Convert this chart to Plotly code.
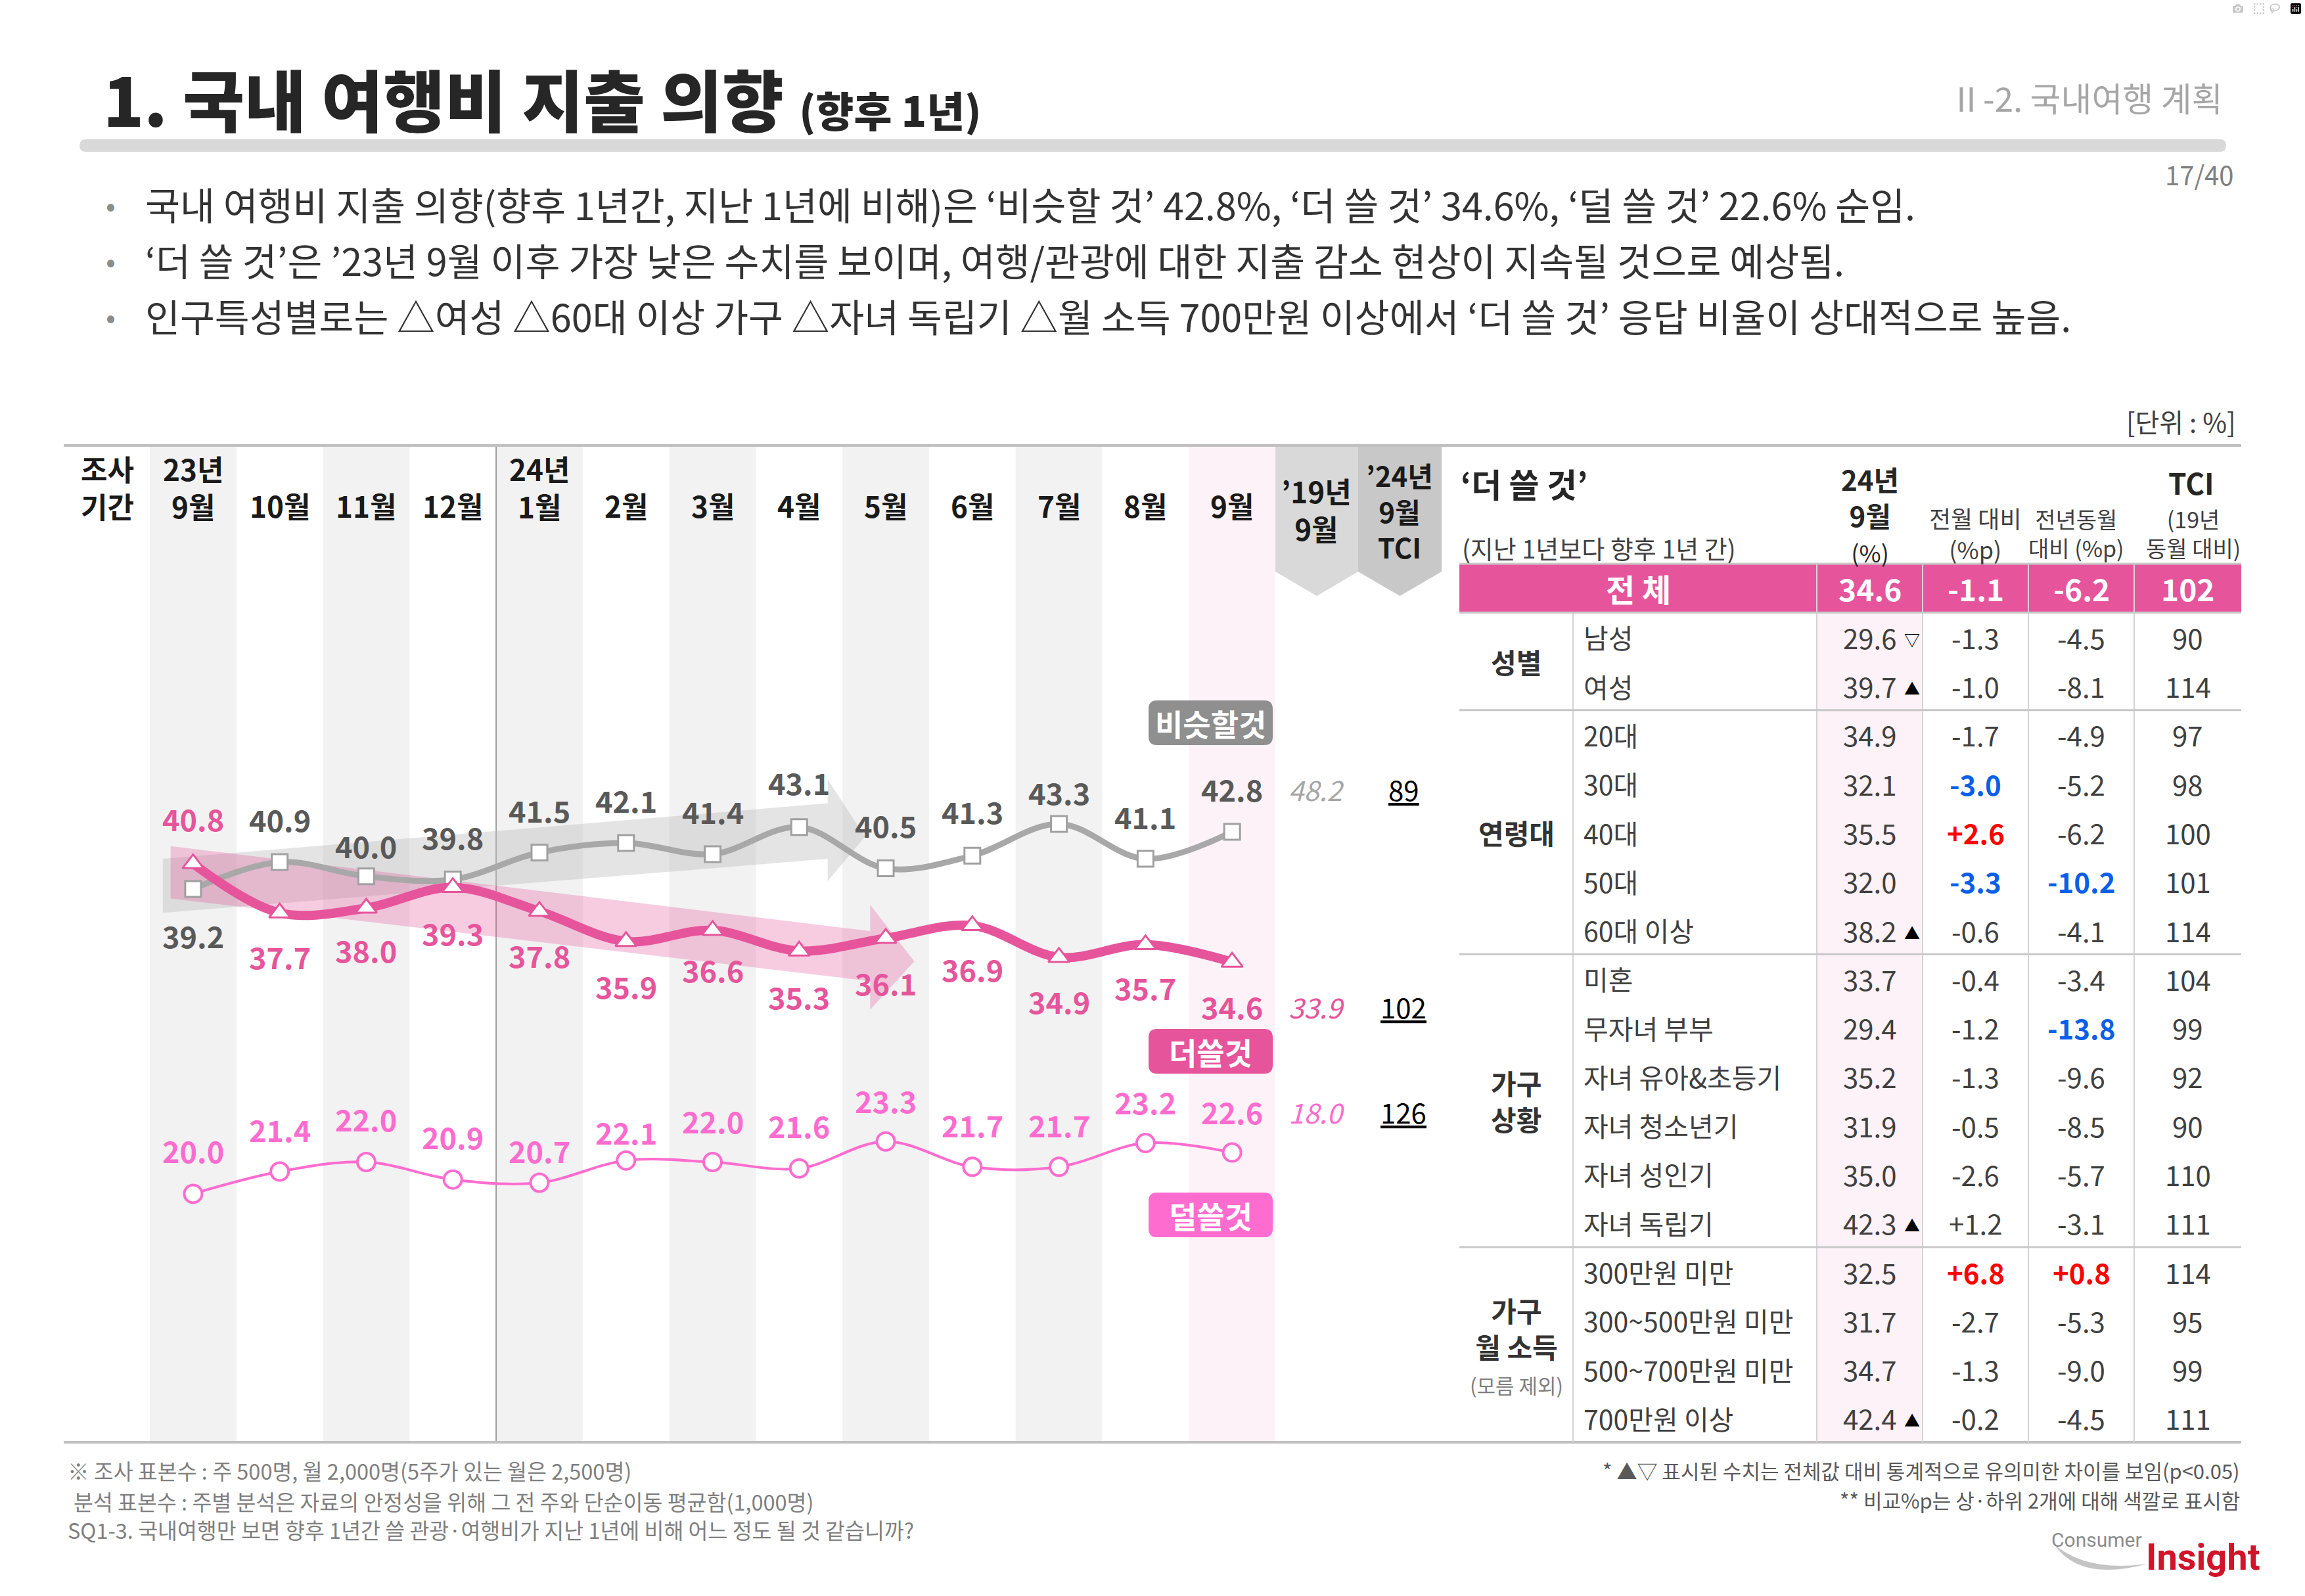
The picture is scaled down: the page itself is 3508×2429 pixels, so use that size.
import plotly.graph_objects as go

W, H = 3508, 2429
KR = "Noto Sans CJK KR"

# ---------------- data ----------------
period_year = ["23년", "", "", "", "24년", "", "", "", "", "", "", "", ""]
period_month = ["9월", "10월", "11월", "12월", "1월", "2월", "3월", "4월", "5월", "6월", "7월", "8월", "9월"]
similar_vals = [39.2, 40.9, 40.0, 39.8, 41.5, 42.1, 41.4, 43.1, 40.5, 41.3, 43.3, 41.1, 42.8]
more_vals = [40.8, 37.7, 38.0, 39.3, 37.8, 35.9, 36.6, 35.3, 36.1, 36.9, 34.9, 35.7, 34.6]
less_vals = [20.0, 21.4, 22.0, 20.9, 20.7, 22.1, 22.0, 21.6, 23.3, 21.7, 21.7, 23.2, 22.6]
series_names = ["비슷할것", "더쓸것", "덜쓸것"]
sep2019_vals = [48.2, 33.9, 18.0]
tci_vals = [89, 102, 126]

total_row = [34.6, -1.1, -6.2, 102]
group_names = ["성별", "연령대", "가구\n상황", "가구\n월 소득\n(모름 제외)"]
group_sizes = [2, 5, 6, 4]
row_names = ["남성", "여성", "20대", "30대", "40대", "50대", "60대 이상", "미혼", "무자녀 부부",
             "자녀 유아&초등기", "자녀 청소년기", "자녀 성인기", "자녀 독립기",
             "300만원 미만", "300~500만원 미만", "500~700만원 미만", "700만원 이상"]
row_pct = [29.6, 39.7, 34.9, 32.1, 35.5, 32.0, 38.2, 33.7, 29.4, 35.2, 31.9, 35.0, 42.3, 32.5, 31.7, 34.7, 42.4]
row_mom = [-1.3, -1.0, -1.7, -3.0, 2.6, -3.3, -0.6, -0.4, -1.2, -1.3, -0.5, -2.6, 1.2, 6.8, -2.7, -1.3, -0.2]
row_yoy = [-4.5, -8.1, -4.9, -5.2, -6.2, -10.2, -4.1, -3.4, -13.8, -9.6, -8.5, -5.7, -3.1, 0.8, -5.3, -9.0, -4.5]
row_tci = [90, 114, 97, 98, 100, 101, 114, 104, 99, 92, 90, 110, 111, 114, 95, 99, 111]
row_sig = ["▽", "▲", "", "", "", "", "▲", "", "", "", "", "", "▲", "", "", "", "▲"]

# ---------------- styles ----------------
C_GRAY_LINE = "#a8a8a8"
C_GRAY_TXT = "#595959"
C_PINK = "#e6559b"
C_LPINK = "#ff6ccf"
C_TXT = "#262626"
C_TBL = "#404040"
C_BLUE = "#0a5fe8"
C_RED = "#ff0000"
C_HEAD = "#1a1a1a"
SERIES_COLORS = [C_GRAY_TXT, C_PINK, C_LPINK]
BOX_COLORS = ["#8f8f8f", C_PINK, C_LPINK]
# label offsets (px, positive = up)
LABEL_SHIFT = [
    [-70, 65, 47, 65, 65, 65, 65, 68, 66, 68, 48, 65, 66],
    [69, -66, -63, -69, -67, -68, -60, -69, -68, -66, -67, -65, -67],
    [66, 65, 66, 66, 49, 44, 63, 66, 63, 64, 64, 63, 63],
]

X0_PLOT, X1_PLOT = 228, 1941
Y0_PLOT, Y1_PLOT = 678, 2195
COLW = (X1_PLOT - X0_PLOT) / len(period_month)


def X(p):
    return p / W


def Y(p):
    return 1 - p / H


def P(x, y):
    return f"{X(x):.6f},{Y(y):.6f}"


def rrect(x0, y0, x1, y1, r):
    return (f"M {P(x0 + r, y0)} L {P(x1 - r, y0)} Q {P(x1, y0)} {P(x1, y0 + r)} "
            f"L {P(x1, y1 - r)} Q {P(x1, y1)} {P(x1 - r, y1)} L {P(x0 + r, y1)} "
            f"Q {P(x0, y1)} {P(x0, y1 - r)} L {P(x0, y0 + r)} Q {P(x0, y0)} {P(x0 + r, y0)} Z")


def ann(text, x, y, size, color=C_TXT, bold=False, xanchor="center", yanchor="middle",
        italic=False, family=KR, under=False, weight=None):
    font = dict(family=family, size=size, color=color, weight=weight or (700 if bold else 400))
    if italic:
        font["style"] = "italic"
    if under:
        font["lineposition"] = "under"
    return dict(text=text, x=X(x), y=Y(y), xref="paper", yref="paper", showarrow=False,
                font=font, xanchor=xanchor, yanchor=yanchor)


def line_shape(x0, y0, x1, y1, color, width):
    return dict(type="line", xref="paper", yref="paper", x0=X(x0), y0=Y(y0), x1=X(x1), y1=Y(y1),
                line=dict(color=color, width=width))


def rect_shape(x0, y0, x1, y1, color, layer="below"):
    return dict(type="rect", xref="paper", yref="paper", x0=X(x0), y0=Y(y0), x1=X(x1), y1=Y(y1),
                fillcolor=color, line=dict(width=0), layer=layer)


fig = go.Figure()
x_idx = list(range(len(period_month)))

fig.add_trace(go.Scatter(
    x=x_idx, y=similar_vals, mode="lines+markers", hoverinfo="skip",
    line=dict(color=C_GRAY_LINE, width=9, shape="spline", smoothing=1),
    marker=dict(symbol="square", size=24, color="#ffffff", line=dict(color="#a0a0a0", width=3))))
fig.add_trace(go.Scatter(
    x=x_idx, y=more_vals, mode="lines+markers", hoverinfo="skip",
    line=dict(color=C_PINK, width=14, shape="spline", smoothing=1),
    marker=dict(symbol="triangle-up", size=28, color="#ffffff", line=dict(color=C_PINK, width=3))))
fig.add_trace(go.Scatter(
    x=x_idx, y=less_vals, mode="lines+markers", hoverinfo="skip",
    line=dict(color=C_LPINK, width=4, shape="spline", smoothing=1),
    marker=dict(symbol="circle", size=27, color="#ffffff", line=dict(color=C_LPINK, width=4))))

shapes = []
anns = []

# title bar
shapes.append(dict(type="path", xref="paper", yref="paper", path=rrect(121, 212, 3388, 231, 9.5),
                   fillcolor="#d9d9d9", line=dict(width=0)))

# column shading
for i in x_idx:
    if i == len(x_idx) - 1:
        col = "#fdf2f7"
    elif i % 2 == 0:
        col = "#f2f2f2"
    else:
        continue
    shapes.append(dict(type="rect", xref="x", yref="paper", x0=i - 0.5, x1=i + 0.5,
                       y0=Y(Y1_PLOT), y1=Y(Y0_PLOT), fillcolor=col, line=dict(width=0), layer="below"))

# 2019 / TCI chevrons
for (a, b, col) in [(1941, 2067, "#d9d9d9"), (2067, 2194, "#c8c8c8")]:
    c = (a + b) / 2
    shapes.append(dict(type="path", xref="paper", yref="paper",
                       path=f"M {P(a, 678)} L {P(b, 678)} L {P(b, 870)} L {P(c, 907)} L {P(a, 870)} Z",
                       fillcolor=col, line=dict(width=0), layer="below"))

# trend arrows (decorative, data coords)
shapes.append(dict(type="path", xref="x", yref="y", layer="below",
                   path="M -0.35,41.1 L 7.33,44.6 L 7.33,46.1 L 7.76,42.5 L 7.33,39.7 L 7.33,41.1 L -0.35,37.7 Z",
                   fillcolor="rgba(190,190,190,0.42)", line=dict(width=0)))
shapes.append(dict(type="path", xref="x", yref="y", layer="below",
                   path="M -0.26,41.9 L 7.82,36.55 L 7.82,38.2 L 8.33,34.65 L 7.82,31.6 L 7.82,33.4 L -0.26,38.6 Z",
                   fillcolor="rgba(230,85,155,0.30)", line=dict(width=0)))

# year separator
shapes.append(dict(type="line", xref="x", yref="paper", x0=3.5, x1=3.5, y0=Y(Y1_PLOT), y1=Y(Y0_PLOT),
                   line=dict(color="#a0a0a0", width=2), layer="below"))

# top and bottom rules
shapes.append(line_shape(97, 678, 3411, 678, "#c0c0c0", 4))
shapes.append(line_shape(97, 2195, 3411, 2195, "#c0c0c0", 4))

# ---------------- table ----------------
T_X = [2221, 2394, 2765, 2926, 3087, 3248, 3411]
T_TOP = 858
RH = (2195 - T_TOP) / (len(row_names) + 1)
shapes.append(rect_shape(T_X[2], T_TOP + RH, T_X[3], 2195, "#fdf2f7"))
shapes.append(rect_shape(T_X[0], T_TOP, T_X[6], T_TOP + RH, C_PINK))
for xv in T_X[2:6]:
    shapes.append(line_shape(xv, T_TOP, xv, 2195, "#d4d4d4", 2))
shapes.append(line_shape(T_X[1], T_TOP + RH, T_X[1], 2195, "#d4d4d4", 2))
shapes.append(line_shape(T_X[0], T_TOP, T_X[6], T_TOP, "#c8c8c8", 3))
shapes.append(line_shape(T_X[0], T_TOP + RH, T_X[6], T_TOP + RH, "#c8c8c8", 3))
k = 1
for gs in group_sizes[:-1]:
    k += gs
    shapes.append(line_shape(T_X[0], T_TOP + k * RH, T_X[6], T_TOP + k * RH, "#c8c8c8", 3))

# series label boxes
for j, (name, col) in enumerate(zip(series_names, BOX_COLORS)):
    yc = [1100, 1600, 1849][j]
    shapes.append(dict(type="path", xref="paper", yref="paper", path=rrect(1748, yc - 34, 1937, yc + 34, 13),
                       fillcolor=col, line=dict(width=0)))
    anns.append(ann(name, 1842, yc, 46, "#ffffff", bold=True))

# logo swoosh
shapes.append(dict(type="path", xref="paper", yref="paper",
                   path=f"M {P(3126, 2350)} Q {P(3165, 2408)} {P(3268, 2380)} Q {P(3175, 2393)} {P(3126, 2350)} Z",
                   fillcolor="#c4c4c4", line=dict(width=0)))

# ---------------- texts ----------------
anns.append(dict(text="1. 국내 여행비 지출 의향 <span style='font-size:63px'>(향후 1년)</span>",
                 x=X(155), y=Y(148), xref="paper", yref="paper", showarrow=False, xanchor="left",
                 yanchor="middle", font=dict(family=KR, size=102, color=C_TXT, weight=900)))
anns.append(ann("Ⅱ-2. 국내여행 계획", 3385, 148, 51, "#a6a6a6", xanchor="right"))
anns.append(ann("17/40", 3401, 265, 40, "#808080", xanchor="right"))

bullets = [
    f"국내 여행비 지출 의향(향후 1년간, 지난 1년에 비해)은 ‘비슷할 것’ {similar_vals[-1]}%, "
    f"‘더 쓸 것’ {more_vals[-1]}%, ‘덜 쓸 것’ {less_vals[-1]}% 순임.",
    "‘더 쓸 것’은 ’23년 9월 이후 가장 낮은 수치를 보이며, 여행/관광에 대한 지출 감소 현상이 지속될 것으로 예상됨.",
    "인구특성별로는 △여성 △60대 이상 가구 △자녀 독립기 △월 소득 700만원 이상에서 ‘더 쓸 것’ 응답 비율이 상대적으로 높음.",
]
for yb, t in zip([310, 395, 480], bullets):
    anns.append(ann("•", 168, yb, 44, "#8c8c8c"))
    anns.append(ann(t, 219, yb, 57.5, "#333333", xanchor="left"))

anns.append(ann("[단위 : %]", 3405, 641, 40, C_TBL, xanchor="right"))

# period header
anns.append(ann("조사<br>기간", 163, 741, 44, C_HEAD, bold=True))
for i in x_idx:
    cx = X0_PLOT + (i + 0.5) * COLW
    if period_year[i]:
        anns.append(ann(f"{period_year[i]}<br>{period_month[i]}", cx, 741, 44, C_HEAD, bold=True))
    else:
        anns.append(ann(period_month[i], cx, 769, 44, C_HEAD, bold=True))
anns.append(ann("’19년<br>9월", 2004, 776, 44, C_HEAD, bold=True))
anns.append(ann("’24년<br>9월<br>TCI", 2130, 777, 42, C_HEAD, bold=True))

# data labels
for s, vals in enumerate([similar_vals, more_vals, less_vals]):
    for i, v in enumerate(vals):
        anns.append(dict(text=f"{v:.1f}", x=i, y=v, xref="x", yref="y", showarrow=False,
                         yshift=LABEL_SHIFT[s][i], xanchor="center", yanchor="middle",
                         font=dict(family=KR, size=45, color=SERIES_COLORS[s], weight=700)))
    last = len(vals) - 1
    anns.append(dict(text=f"{sep2019_vals[s]:.1f}", x=X(2004), y=vals[last], xref="paper", yref="y",
                     showarrow=False, yshift=LABEL_SHIFT[s][last], xanchor="center", yanchor="middle",
                     font=dict(family=KR, size=42, style="italic",
                               color=["#a6a6a6", C_PINK, C_LPINK][s])))
    anns.append(dict(text=str(tci_vals[s]), x=X(2136), y=vals[last], xref="paper", yref="y",
                     showarrow=False, yshift=LABEL_SHIFT[s][last], xanchor="center", yanchor="middle",
                     font=dict(family=KR, size=42, color="#000000", lineposition="under")))

# table header
anns.append(ann("‘더 쓸 것’", 2221, 735, 50, C_TXT, bold=True, xanchor="left"))
anns.append(ann("(지난 1년보다 향후 1년 간)", 2223, 833, 38, C_TBL, xanchor="left"))
anns.append(ann("<b>24년</b><br><b>9월</b><br><span style='font-size:36px'>(%)</span>", 2846, 782, 42, C_TXT))
anns.append(ann("전월 대비<br>(%p)", 3006, 811, 36, C_TBL))
anns.append(ann("전년동월<br>대비 (%p)", 3160, 811, 34, C_TBL))
anns.append(ann("<b>TCI</b>", 3335, 734, 44, C_TXT))
anns.append(ann("(19년<br>동월 대비)", 3338, 811, 34, C_TBL))

centers = [(T_X[2] + T_X[3]) / 2, (T_X[3] + T_X[4]) / 2, (T_X[4] + T_X[5]) / 2, (T_X[5] + T_X[6]) / 2]
yc0 = T_TOP + RH / 2
anns.append(ann("전 체", (T_X[0] + T_X[2]) / 2, yc0, 48, "#ffffff", bold=True))
for c, fmtv in zip(centers, [f"{total_row[0]:.1f}", f"{total_row[1]:.1f}",
                             f"{total_row[2]:.1f}", str(total_row[3])]):
    anns.append(ann(fmtv, c, yc0, 46, "#ffffff", bold=True))


def signed(v):
    return f"+{v:.1f}" if v > 0 else f"{v:.1f}"


def change_color(vals, v):
    s = sorted(vals)
    if v > 0 and v >= s[-2]:
        return C_RED, True
    if v < 0 and v <= s[1]:
        return C_BLUE, True
    return C_TBL, False


for r, name in enumerate(row_names):
    yc = T_TOP + (r + 1.5) * RH
    anns.append(ann(name, 2408, yc, 41, C_TBL, xanchor="left"))
    anns.append(ann(f"{row_pct[r]:.1f}", centers[0], yc, 42, C_TBL))
    if row_sig[r]:
        anns.append(ann(row_sig[r], 2910, yc + 3, 24, "#000000"))
    col, b = change_color(row_mom, row_mom[r])
    anns.append(ann(signed(row_mom[r]), centers[1], yc, 42, col, bold=b))
    col, b = change_color(row_yoy, row_yoy[r])
    anns.append(ann(signed(row_yoy[r]), centers[2], yc, 42, col, bold=b))
    anns.append(ann(str(row_tci[r]), centers[3], yc, 42, C_TBL))

start = 1
for g, gs in zip(group_names, group_sizes):
    top = T_TOP + start * RH
    yc = top + gs * RH / 2
    parts = []
    for ln in g.split("\n"):
        if ln.startswith("("):
            parts.append(f"<span style='font-size:31px;color:#7f7f7f;font-weight:400'>{ln}</span>")
        else:
            parts.append(f"<b>{ln}</b>")
    anns.append(dict(text="<br>".join(parts), x=X((T_X[0] + T_X[1]) / 2), y=Y(yc), xref="paper",
                     yref="paper", showarrow=False, xanchor="center", yanchor="middle",
                     font=dict(family=KR, size=42, color="#333333")))
    start += gs

# footers
anns.append(ann("※ 조사 표본수 : 주 500명, 월 2,000명(5주가 있는 월은 2,500명)", 101, 2237, 32.5, "#7f7f7f", xanchor="left"))
anns.append(ann("분석 표본수 : 주별 분석은 자료의 안정성을 위해 그 전 주와 단순이동 평균함(1,000명)", 110, 2284, 32.5, "#7f7f7f", xanchor="left"))
anns.append(ann("SQ1-3. 국내여행만 보면 향후 1년간 쓸 관광·여행비가 지난 1년에 비해 어느 정도 될 것 같습니까?", 101, 2327, 32.5, "#7f7f7f", xanchor="left"))
anns.append(ann("* ▲▽ 표시된 수치는 전체값 대비 통계적으로 유의미한 차이를 보임(p&lt;0.05)", 3411, 2237, 31, "#595959", xanchor="right"))
anns.append(ann("** 비교%p는 상·하위 2개에 대해 색깔로 표시함", 3411, 2282, 31, "#595959", xanchor="right"))
anns.append(ann("Consumer", 3262, 2343, 30, "#8c8c8c", xanchor="right", family="Roboto"))
anns.append(ann("Insight", 3264, 2370, 56, "#d2142b", bold=True, xanchor="left", family="Roboto"))

fig.update_layout(
    width=W, height=H, margin=dict(l=0, r=0, t=0, b=0),
    paper_bgcolor="white", plot_bgcolor="rgba(0,0,0,0)", showlegend=False,
    xaxis=dict(domain=[X(X0_PLOT), X(X1_PLOT)], range=[-0.5, 12.5], visible=False, fixedrange=True),
    yaxis=dict(domain=[Y(Y1_PLOT), Y(Y0_PLOT)], range=[4.35, 67.14], visible=False, fixedrange=True),
    shapes=shapes, annotations=anns,
)

fig.write_html("out.html", post_script="document.body.style.margin='0';")
